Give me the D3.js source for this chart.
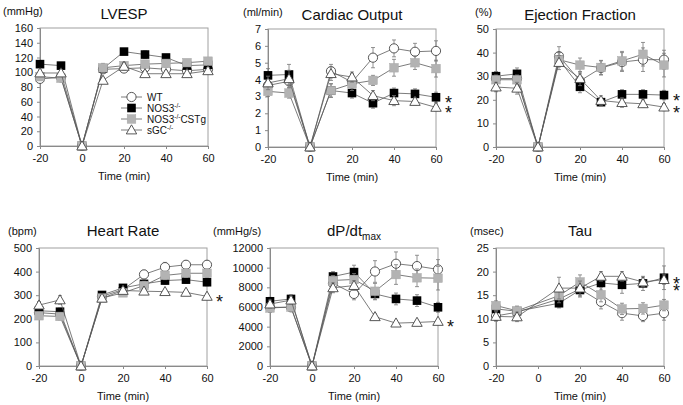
<!DOCTYPE html>
<html>
<head>
<meta charset="utf-8">
<script src="https://cdn.jsdelivr.net/npm/d3@7"></script>
<style>
  body { margin: 0; background: #fff; }
  text { font-family: 'Liberation Sans', Arial, sans-serif; fill: #111; }
</style>
</head>
<body>
<svg id="chart" width="683" height="405"></svg>
<script>
// time points (min)
const times = [-20, -10, 0, 10, 20, 30, 40, 50, 60];

// LVESP (mmHg)
const lvespWT   = [91, 93, 0, 104, 105, 106, 104, 102, 104];
const lvespNOS3 = [111, 109, 0, 105, 128, 124, 120, 109, 110];
const lvespCSTg = [94, 92, 0, 106, 109, 111, 112, 113, 115];
const lvespSGC  = [99, 99, 0, 89, 108, 98, 98, 98, 102];
const lvespErr  = [[4, 4, 0, 5, 4, 5, 5, 4, 5], [4, 4, 0, 5, 4, 5, 4, 4, 4], [4, 4, 0, 6, 5, 5, 5, 4, 5], [4, 4, 0, 4, 5, 4, 4, 4, 4]];

// Cardiac output (ml/min)
const coWT   = [3.65, 3.9, 0, 4.5, 3.85, 5.3, 5.85, 5.65, 5.7];
const coNOS3 = [4.25, 4.3, 0, 3.35, 3.2, 2.6, 3.2, 3.15, 2.95];
const coCSTg = [3.3, 3.2, 0, 3.35, 3.75, 3.95, 4.7, 5.0, 4.65];
const coSGC  = [3.8, 4.05, 0, 4.35, 4.15, 3.05, 2.75, 2.7, 2.35];
const coErr  = [[0.3, 0.4, 0, 0.4, 0.5, 0.6, 0.5, 0.5, 0.6], [0.4, 0.6, 0, 0.4, 0.3, 0.3, 0.3, 0.3, 0.3], [0.3, 0.3, 0, 0.4, 0.4, 0.3, 0.5, 0.4, 0.5], [0.4, 0.5, 0, 0.4, 0.3, 0.3, 0.3, 0.2, 0.2]];

// Ejection fraction (%)
const efWT   = [29, 29, 0, 38.5, 28, 33.5, 36, 37, 37];
const efNOS3 = [30, 31, 0, 37, 25.5, 19, 22.3, 22.3, 22];
const efCSTg = [28.5, 28.5, 0, 37, 34.7, 33.7, 36.5, 39.3, 34.7];
const efSGC  = [25.4, 24.9, 0, 35.8, 29, 19.7, 18.8, 18.3, 16.9];
const efErr  = [[2, 2, 0, 4, 3, 3, 4, 5, 4], [2, 2.5, 0, 3, 2.5, 1.5, 2, 2, 2], [2, 2, 0, 3, 3, 3, 4, 5, 5], [2, 2.5, 0, 3, 3, 2, 2, 1.5, 1.5]];

// Heart rate (bpm)
const hrWT   = [226, 220, 0, 295, 324, 388, 419, 429, 429];
const hrNOS3 = [234, 230, 0, 301, 331, 348, 362, 366, 355];
const hrCSTg = [213, 210, 0, 288, 310, 341, 384, 393, 393];
const hrSGC  = [258, 280, 0, 287, 320, 317, 315, 312, 295];
const hrErr  = [[15, 15, 0, 12, 15, 18, 20, 18, 18], [15, 15, 0, 12, 12, 15, 15, 15, 15], [15, 15, 0, 12, 15, 18, 18, 18, 18], [15, 18, 0, 12, 12, 10, 10, 10, 10]];

// dP/dt max (mmHg/s)
const dpWT   = [5970, 5970, 0, 8400, 7330, 9610, 10400, 10160, 9820];
const dpNOS3 = [6580, 6820, 0, 9100, 9550, 7330, 6820, 6650, 5970];
const dpCSTg = [5900, 6000, 0, 8700, 8800, 7600, 9300, 8970, 8930];
const dpSGC  = [6300, 6700, 0, 7950, 8180, 5010, 4360, 4430, 4530];
const dpErr  = [[500, 400, 0, 400, 600, 1100, 1200, 1100, 1000], [400, 400, 0, 500, 700, 600, 600, 600, 500], [400, 400, 0, 500, 600, 800, 1000, 900, 1200], [400, 400, 0, 500, 500, 300, 200, 200, 200]];

// Tau (msec), no value at t = 0
const tauWT   = [10.6, 11.4, null, 14.2, 16.3, 13.6, 11.2, 10.6, 11.2];
const tauNOS3 = [12.1, 11.6, null, 13.3, 16.1, 17.6, 17.2, 17.5, 18.7];
const tauCSTg = [12.8, 11.7, null, 14.9, 17.8, 15.1, 12.1, 12.2, 12.9];
const tauSGC  = [10.5, 10.4, null, 16.5, 16.5, 19.0, 19.0, 17.8, 18.3];
const tauErr  = [[1, 1, 0, 1.5, 1.5, 1.5, 1.5, 1.2, 1.5], [1, 1, 0, 1, 1.5, 1.5, 1.8, 1.5, 2.5], [1, 1, 0, 1.5, 1.5, 1.5, 1.2, 1.2, 1.2], [1, 1, 0, 2.3, 1.5, 1, 1, 1, 1]];

// legend labels: [main, superscript, tail]
const seriesLabels = [['WT', '', ''], ['NOS3', '-/-', ''], ['NOS3', '-/-', 'CSTg'], ['sGC', '-/-', '']];
const xTicks = [-20, 0, 20, 40, 60];

// stars: series the first asterisk sits beside; stacked ones follow at starGap px
const panels = [
  { title: 'LVESP', unit: '(mmHg)', yMax: 160, yStep: 20, series: [lvespWT, lvespNOS3, lvespCSTg, lvespSGC], err: lvespErr,
    left: 40, top: 28, unitX: 3, legend: true, stars: [] },
  { title: 'Cardiac Output', unit: '(ml/min)', yMax: 7, yStep: 1, series: [coWT, coNOS3, coCSTg, coSGC], err: coErr,
    left: 268, top: 29, unitX: 243, stars: [1, 3], starGap: 10 },
  { title: 'Ejection Fraction', unit: '(%)', yMax: 50, yStep: 10, series: [efWT, efNOS3, efCSTg, efSGC], err: efErr,
    left: 496, top: 29, unitX: 475, stars: [1, 3], starGap: 12 },
  { title: 'Heart Rate', unit: '(bpm)', yMax: 500, yStep: 100, series: [hrWT, hrNOS3, hrCSTg, hrSGC], err: hrErr,
    left: 39, top: 248, unitX: 8, stars: [3] },
  { title: 'dP/dt', sub: 'max', unit: '(mmHg/s)', yMax: 12000, yStep: 2000, series: [dpWT, dpNOS3, dpCSTg, dpSGC], err: dpErr,
    left: 270, top: 248, unitX: 213, stars: [3] },
  { title: 'Tau', unit: '(msec)', yMax: 25, yStep: 5, series: [tauWT, tauNOS3, tauCSTg, tauSGC], err: tauErr,
    left: 496, top: 248, unitX: 470, stars: [1, 3], starGap: 7 }
];

const W = 168, H = 118;
const axisColor = '#8a8a8a';
const lineColor = '#5a5a5a';

const svg = d3.select('#chart');

function drawMarker(g, kind, x, y) {
  if (kind === 0) {
    g.append('circle').attr('cx', x).attr('cy', y).attr('r', 4.6)
      .attr('fill', '#fff').attr('stroke', '#444').attr('stroke-width', 0.9);
  } else if (kind === 1) {
    g.append('rect').attr('x', x - 4.3).attr('y', y - 4.3).attr('width', 8.6).attr('height', 8.6)
      .attr('fill', '#000');
  } else if (kind === 2) {
    g.append('rect').attr('x', x - 4.3).attr('y', y - 4.3).attr('width', 8.6).attr('height', 8.6)
      .attr('fill', '#b3b3b3').attr('stroke', '#a8a8a8').attr('stroke-width', 0.5);
  } else {
    g.append('path').attr('d', `M${x},${y - 5.2}L${x + 5.2},${y + 3.9}L${x - 5.2},${y + 3.9}Z`)
      .attr('fill', '#fff').attr('stroke', '#444').attr('stroke-width', 0.9);
  }
}

panels.forEach(p => {
  const g = svg.append('g').attr('transform', `translate(${p.left},${p.top})`);
  const x = d3.scaleLinear().domain([-20, 60]).range([0, W]);
  const y = d3.scaleLinear().domain([0, p.yMax]).range([H, 0]);

  // frame
  g.append('rect').attr('width', W).attr('height', H)
    .attr('fill', 'none').attr('stroke', '#a0a0a0').attr('stroke-width', 1);

  // axes (plain hyphen minus, no thousands separator)
  const fmt = d => String(d);
  const yAxis = d3.axisLeft(y).tickValues(d3.range(0, p.yMax + p.yStep / 2, p.yStep))
    .tickFormat(fmt).tickSize(3).tickPadding(4);
  const ya = g.append('g').call(yAxis);
  const xAxis = d3.axisBottom(x).tickValues(xTicks).tickFormat(fmt).tickSize(3).tickPadding(5);
  const xa = g.append('g').attr('transform', `translate(0,${H})`).call(xAxis);
  [ya, xa].forEach(a => {
    a.select('.domain').attr('stroke', axisColor);
    a.selectAll('.tick line').attr('stroke', axisColor);
    a.selectAll('.tick text').attr('font-size', 11).attr('fill', '#111')
      .attr('font-family', "'Liberation Sans', Arial, sans-serif");
  });

  // labels
  const t = g.append('text').attr('x', W / 2).attr('y', p.top < 100 ? -9 : -12)
    .attr('text-anchor', 'middle').attr('font-size', 15).text(p.title);
  if (p.sub) t.append('tspan').attr('font-size', 10).attr('dy', 4).text(p.sub);
  svg.append('text').attr('x', p.unitX).attr('y', p.top - 13)
    .attr('font-size', 11).text(p.unit);
  g.append('text').attr('x', W / 2).attr('y', H + 34).attr('text-anchor', 'middle')
    .attr('font-size', 11).text('Time (min)');

  // series: error bars, line, markers
  p.series.forEach((vals, si) => {
    const pts = times.map((tm, i) => ({ t: tm, v: vals[i], e: p.err[si][i] })).filter(d => d.v !== null);
    const sg = g.append('g');
    pts.forEach(d => {
      if (!d.e) return;
      const x0 = x(d.t), y1 = y(d.v - d.e), y2 = y(d.v + d.e);
      sg.append('line').attr('x1', x0).attr('x2', x0).attr('y1', y1).attr('y2', y2)
        .attr('stroke', '#777').attr('stroke-width', 0.8);
      [y1, y2].forEach(yy => sg.append('line').attr('x1', x0 - 2).attr('x2', x0 + 2)
        .attr('y1', yy).attr('y2', yy).attr('stroke', '#777').attr('stroke-width', 0.8));
    });
    sg.append('path').datum(pts)
      .attr('d', d3.line().x(d => x(d.t)).y(d => y(d.v)))
      .attr('fill', 'none').attr('stroke', lineColor).attr('stroke-width', 0.8);
    pts.forEach(d => drawMarker(sg, si, x(d.t), y(d.v)));
  });

  // significance stars, stacked in one text element
  if (p.stars.length) {
    const first = p.series[p.stars[0]][times.length - 1];
    const st = g.append('text').attr('x', x(60) + 9).attr('y', y(first) + 12)
      .attr('font-size', 18);
    p.stars.forEach((s, i) => {
      st.append('tspan').attr('x', x(60) + 9).attr('dy', i === 0 ? 0 : p.starGap).text('*');
    });
  }

  // legend
  if (p.legend) {
    const lg = g.append('g').attr('transform', 'translate(81,69)');
    seriesLabels.forEach((lab, i) => {
      const ry = i * 11;
      lg.append('line').attr('x1', 0).attr('x2', 21).attr('y1', ry).attr('y2', ry)
        .attr('stroke', lineColor).attr('stroke-width', 0.8);
      drawMarker(lg, i, 10.5, ry);
      const tx = lg.append('text').attr('x', 26).attr('y', ry + 3.5).attr('font-size', 10);
      tx.append('tspan').text(lab[0]);
      if (lab[1]) tx.append('tspan').attr('font-size', 6.5).attr('dy', -4).text(lab[1]);
      if (lab[2]) tx.append('tspan').attr('dy', 4).text(lab[2]);
    });
  }
});
</script>
</body>
</html>
